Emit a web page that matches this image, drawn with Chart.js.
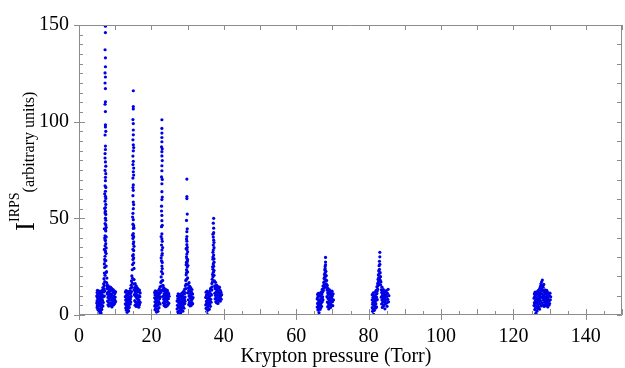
<!DOCTYPE html>
<html>
<head>
<meta charset="utf-8">
<script src="https://cdn.jsdelivr.net/npm/chart.js@4"></script>
<style>
  html, body { margin: 0; padding: 0; background: #fff; }
  #wrap { width: 625px; height: 368px; }
</style>
</head>
<body>
<div id="wrap"><canvas id="irps" width="625" height="368"></canvas></div>
<script>
// Krypton pressure (Torr) vs I^IRPS, one list per resonance
const res7 = [
  [4.9,6.2],[4.9,9.8],[5.0,3.9],[5.0,11.6],[5.0,7.4],[5.1,12.8],[5.1,5.1],[5.1,9.0],[5.2,2.8],[5.2,10.7],[5.2,6.6],[5.3,8.3],[5.3,12.1],[5.3,4.4],
  [5.4,11.2],[5.4,7.0],[5.4,3.2],[5.5,9.6],[5.5,5.7],[5.5,12.4],[5.6,1.9],[5.6,8.1],[5.6,10.3],[5.7,4.8],[5.7,6.9],[5.7,11.8],[5.8,0.6],[5.8,3.1],
  [5.8,9.2],[5.9,-0.8],[5.9,5.5],[5.9,7.7],[6.0,2.2],[6.0,10.9],[6.0,6.1],[6.1,1.0],[6.1,8.6],[6.1,12.3],[6.2,4.0],[6.2,9.9],[6.3,6.8],[6.3,2.9],
  [6.3,11.4],[6.4,8.0],[6.4,5.0],[6.5,12.9],[6.5,7.3],[6.5,10.1],[6.6,4.6],[6.6,14.2],[6.7,9.4],[6.7,6.5],[6.8,11.9],[6.8,16.1],
  [6.9,13.5],[6.9,18.8],[7.0,15.2],[7.0,21.7],[7.0,9.8],[7.1,24.6],[7.1,17.3],[7.1,12.4],[7.2,27.9],[7.2,20.5],
  [7.2,30.4],[7.3,33.1],[7.2,35.8],[7.4,28.2],[7.3,38.5],[7.2,41.0],[7.4,36.9],[7.3,44.2],[7.2,47.3],[7.4,43.5],[7.3,50.1],[7.2,52.8],[7.4,49.0],
  [7.3,55.6],[7.2,58.9],[7.4,57.2],[7.3,61.4],[7.3,64.0],[7.2,66.8],[7.4,60.3],[7.3,69.5],[7.3,71.2],[7.2,74.8],[7.4,77.0],[7.3,32.6],[7.5,25.3],
  [7.5,31.8],[7.1,28.8],[7.4,46.6],[7.3,53.7],[7.2,38.9],[7.5,40.4],
  [7.0,26.4],[7.5,34.7],[7.1,39.8],[7.5,45.3],[7.0,33.9],[7.4,52.0],[7.1,55.1],[7.5,22.0],[7.1,62.7],[7.4,66.0],[7.0,44.6],[7.4,73.1],
  [7.3,79.2],[7.2,83.5],[7.3,85.6],[7.3,87.4],[7.2,93.1],[7.3,97.3],[7.3,98.4],[7.3,105.2],[7.2,109.0],[7.3,110.3],[7.3,117.1],[7.2,120.0],
  [7.3,123.1],[7.2,125.2],[7.3,128.4],[7.3,133.0],[7.2,137.2],[7.3,146.1],[7.3,149.4],[7.2,81.2],[7.4,95.0],
  [7.6,22.4],[7.6,16.8],[7.7,19.1],[7.7,13.6],[7.8,15.7],[7.8,10.9],[7.9,14.8],[7.9,7.2],[7.9,11.6],[8.0,5.3],[8.0,13.9],[8.0,9.1],[8.1,15.0],
  [8.1,6.8],[8.2,12.2],[8.2,4.6],[8.2,10.0],[8.3,14.1],[8.3,7.9],[8.4,5.8],[8.4,11.3],[8.5,13.3],[8.5,8.6],[8.6,4.9],[8.6,10.7],[8.7,14.4],
  [8.7,6.3],[8.8,9.5],[8.8,12.7],[8.9,5.4],[8.9,11.0],[9.0,13.8],[9.0,7.6],[9.1,4.2],[9.1,10.4],[9.2,12.9],[9.2,6.0],[9.3,8.8],[9.4,13.2],
  [9.4,5.1],[9.5,11.7],[9.5,7.3],[9.6,9.8],[9.7,12.5],[9.7,5.6],[9.8,8.2],[9.9,11.1],[9.9,6.4],[10.0,9.3],[10.1,12.0],[10.1,7.0]
];
const res15 = [
  [12.8,5.8],[12.8,9.4],[12.8,11.9],[12.9,3.6],[12.9,7.7],[13.0,12.6],[13.0,5.2],[13.0,9.9],[13.1,2.5],[13.1,8.1],[13.2,11.0],[13.2,4.3],[13.2,6.9],
  [13.3,10.2],[13.3,1.4],[13.4,8.8],[13.4,5.9],[13.4,12.2],[13.5,3.2],[13.5,7.1],[13.6,-0.5],[13.6,10.6],[13.6,5.0],[13.7,8.4],[13.7,2.1],[13.8,11.5],
  [13.8,6.3],[13.9,9.2],[13.9,3.9],[14.0,12.4],[14.0,7.5],[14.1,5.6],[14.1,10.8],[14.2,8.3],[14.2,13.7],[14.3,6.7],[14.3,11.3],[14.4,9.6],[14.4,15.4],
  [14.5,12.1],[14.5,17.6],[14.6,14.3],[14.6,20.2],[14.7,16.5],[14.7,23.4],[14.8,19.0],[14.8,26.1],
  [14.9,28.7],[15.0,31.2],[14.9,34.0],[15.1,29.5],[15.0,36.8],[14.9,39.6],[15.1,33.3],[15.0,42.1],[15.0,44.8],[14.9,47.0],[15.1,40.5],[15.0,49.3],
  [14.9,52.6],[15.0,55.0],[15.1,46.2],[15.0,58.4],[14.9,61.7],[15.0,64.5],[15.0,67.3],[14.9,70.8],[15.0,74.1],[15.1,76.0],[15.0,79.5],[14.9,82.2],
  [15.0,84.9],[15.0,88.0],[14.9,90.6],[15.0,93.2],[15.0,95.7],[15.1,27.0],[15.2,24.1],[15.1,37.9],
  [14.8,30.6],[15.2,35.5],[14.8,41.3],[15.2,45.0],[14.8,50.7],[15.1,57.1],[14.9,65.9],[15.1,72.4],[15.1,86.6],[14.9,77.8],
  [15.0,99.0],[14.9,101.1],[15.0,106.6],[15.0,107.8],[15.0,116.0],
  [15.2,18.3],[15.2,13.0],[15.3,15.9],[15.3,10.5],[15.4,14.2],[15.4,7.4],[15.5,12.0],[15.5,16.3],[15.5,5.1],[15.6,9.7],[15.6,13.8],[15.7,6.6],
  [15.7,11.2],[15.8,15.1],[15.8,4.4],[15.9,8.9],[15.9,12.8],[16.0,6.0],[16.0,10.3],[16.1,14.0],[16.1,4.8],[16.2,8.0],[16.2,11.9],[16.3,5.5],
  [16.3,13.4],[16.4,9.1],[16.4,6.9],[16.5,12.3],[16.5,4.0],[16.6,10.0],[16.6,7.7],[16.7,12.9],[16.7,5.2],[16.8,9.5],[16.9,11.4],[16.9,6.5]
];
const res23 = [
  [20.9,4.6],[20.9,8.9],[20.9,11.7],[21.0,2.7],[21.0,6.8],[21.0,10.4],[21.1,12.5],[21.1,5.3],[21.2,8.1],[21.2,3.4],[21.3,10.9],[21.3,6.2],[21.4,1.5],
  [21.4,9.3],[21.4,12.0],[21.5,4.7],[21.5,7.5],[21.6,-0.6],[21.6,10.1],[21.7,3.0],[21.7,6.4],[21.7,11.6],[21.8,8.7],[21.8,1.9],[21.9,5.4],[21.9,9.9],
  [22.0,12.8],[22.0,7.0],[22.1,3.8],[22.1,10.7],[22.2,6.1],[22.2,13.5],[22.3,8.5],[22.3,11.2],[22.4,5.7],[22.4,14.6],[22.5,9.4],[22.5,12.6],
  [22.6,16.8],[22.6,11.8],[22.7,19.7],[22.7,14.9],[22.8,22.5],[22.8,17.4],
  [22.9,25.3],[22.8,28.0],[23.0,24.0],[22.9,30.9],[22.9,33.6],[22.8,36.2],[23.0,31.8],[22.9,39.4],[22.9,42.0],[22.8,45.7],[23.0,38.1],[22.9,48.8],
  [22.9,51.5],[22.8,56.3],[22.9,59.7],[23.0,61.0],[22.9,63.8],[22.9,67.9],[22.8,71.4],[22.9,74.6],[22.9,77.2],[23.0,79.9],[22.9,82.3],[22.9,84.5],
  [22.8,87.0],[22.9,89.6],[22.9,91.8],[23.0,27.2],[23.1,21.4],[22.9,94.1],[22.9,96.5],[22.9,101.0],
  [22.7,29.5],[23.1,34.9],[22.7,40.6],[23.0,46.4],[22.8,53.8],[23.0,70.1],[23.0,86.0],
  [23.1,17.9],[23.1,13.1],[23.2,15.4],[23.2,9.6],[23.3,12.6],[23.3,6.3],[23.4,14.2],[23.4,8.2],[23.5,11.0],[23.5,4.9],[23.6,13.5],[23.6,7.2],
  [23.7,10.1],[23.7,5.6],[23.8,12.4],[23.8,8.7],[23.9,4.3],[23.9,11.3],[24.0,6.7],[24.0,13.2],[24.1,9.2],[24.1,5.1],[24.2,12.0],[24.2,7.8],
  [24.3,10.5],[24.3,4.7],[24.4,12.8],[24.4,6.9],[24.5,9.0],[24.6,11.6],[24.6,5.4],[24.7,8.4],[24.8,10.9],[24.8,6.1],[24.9,9.7]
];
const res30 = [
  [27.1,3.1],[27.1,7.2],[27.2,9.8],[27.2,5.0],[27.3,1.6],[27.3,8.4],[27.4,11.0],[27.4,3.9],[27.5,6.5],[27.5,0.7],[27.6,9.1],[27.6,4.4],[27.7,7.7],
  [27.7,2.2],[27.8,10.5],[27.8,5.8],[27.9,-0.9],[27.9,8.0],[28.0,3.3],[28.0,6.1],[28.1,10.2],[28.1,1.2],[28.2,7.4],[28.2,4.9],[28.3,9.4],[28.3,2.7],
  [28.4,6.0],[28.4,11.3],[28.5,3.8],[28.5,8.6],[28.6,5.5],[28.6,10.0],[28.7,2.0],[28.7,7.3],[28.8,11.8],[28.8,4.6],[28.9,9.0],[28.9,6.8],[29.0,12.5],
  [29.0,3.5],[29.1,8.2],[29.1,10.9],[29.2,5.9],[29.2,13.4],[29.3,9.3],[29.3,7.1],[29.4,15.2],[29.4,11.5],
  [29.5,17.9],[29.5,13.6],[29.6,20.8],[29.6,16.0],[29.7,23.4],[29.7,18.5],[29.8,26.6],[29.7,21.9],[29.8,29.2],[29.9,24.8],[29.8,31.5],[29.8,33.9],
  [29.9,27.7],[29.8,36.4],[29.7,30.1],[29.8,38.2],[29.9,35.0],[29.8,40.6],[29.8,43.1],[29.7,48.9],[29.9,52.2],[29.8,60.2],[29.8,61.3],[29.8,70.3],
  [30.0,22.3],[30.0,19.2],[30.1,25.6],
  [29.6,26.0],[30.0,32.7],[29.6,34.3],[30.0,28.6],[29.7,39.3],[29.9,44.6],[29.7,27.3],
  [30.1,15.8],[30.1,11.4],[30.2,14.0],[30.2,7.9],[30.3,12.6],[30.3,5.4],[30.4,16.7],[30.4,9.8],[30.5,13.1],[30.5,6.5],[30.6,11.0],[30.6,14.8],
  [30.7,4.7],[30.7,8.9],[30.8,12.1],[30.8,6.2],[30.9,10.3],[30.9,14.0],[31.0,7.6],[31.0,5.0],[31.1,11.7],[31.1,9.2],[31.2,6.4],[31.2,13.2],
  [31.3,8.3],[31.4,10.8],[31.4,5.8],[31.5,9.0]
];
const res37 = [
  [35.0,5.2],[35.0,9.1],[35.1,11.8],[35.1,3.4],[35.2,7.0],[35.2,10.3],[35.3,1.8],[35.3,5.9],[35.4,8.6],[35.4,12.4],[35.5,0.2],[35.5,4.2],[35.6,7.9],
  [35.6,10.9],[35.7,2.6],[35.7,6.3],[35.8,9.5],[35.8,4.8],[35.9,11.4],[35.9,7.3],[36.0,3.0],[36.0,8.8],[36.1,12.2],[36.1,5.6],[36.2,9.9],[36.2,6.9],
  [36.3,13.5],[36.3,4.5],[36.4,8.1],[36.4,11.0],[36.5,14.1],[36.5,6.6],[36.6,10.4],[36.7,16.3],[36.7,12.9],
  [36.8,18.5],[36.8,14.6],[36.9,21.0],[36.9,17.2],[37.0,23.7],[37.0,19.8],[37.1,26.4],[37.0,28.9],[37.1,22.1],[37.2,31.0],[37.1,33.6],[37.2,25.2],
  [37.1,36.2],[37.2,38.7],[37.1,40.3],[37.2,42.6],[37.2,44.9],[37.1,47.5],[37.2,50.0],[37.3,20.5],[37.3,27.3],[37.4,17.6],[37.3,34.8],[37.0,30.0],
  [36.9,24.9],[37.3,29.1],[37.0,32.4],[37.3,37.5],[37.0,41.8],[37.3,23.0],
  [37.5,15.1],[37.5,11.2],[37.6,13.6],[37.6,8.4],[37.7,16.9],[37.7,10.1],[37.8,6.9],[37.8,14.3],[37.9,12.0],[37.9,8.8],[38.0,15.5],[38.0,6.3],
  [38.1,10.6],[38.1,13.1],[38.2,7.7],[38.2,11.9],[38.3,14.8],[38.3,9.3],[38.4,6.0],[38.4,12.5],[38.5,10.0],[38.6,13.9],[38.6,7.4],[38.7,11.3],
  [38.8,8.6],[38.8,14.4],[38.9,10.7],[39.0,7.1],[39.0,12.8],[39.1,9.6],[39.2,11.8],[39.3,8.2],[39.4,10.5]
];
const res68 = [
  [65.8,4.1],[65.8,8.3],[65.9,10.6],[65.9,6.0],[66.0,2.6],[66.0,9.2],[66.1,5.3],[66.1,11.2],[66.2,7.4],[66.2,3.5],[66.3,9.8],[66.3,1.2],[66.4,6.5],
  [66.4,4.7],[66.5,10.3],[66.5,-0.3],[66.6,8.0],[66.6,2.9],[66.7,5.6],[66.7,11.5],[66.8,7.1],[66.8,3.8],[66.9,9.6],[66.9,6.2],[67.0,12.0],[67.0,4.5],
  [67.1,8.7],[67.1,10.8],[67.2,6.8],[67.2,13.3],[67.3,9.4],[67.3,11.9],[67.4,15.0],[67.4,7.9],[67.5,12.7],
  [67.6,16.8],[67.6,13.9],[67.7,18.9],[67.7,15.5],[67.8,21.0],[67.8,17.3],[67.9,23.3],[67.9,19.6],[68.0,25.1],[68.0,21.8],[68.1,27.4],[68.0,23.9],
  [68.1,29.8],[68.1,26.0],[68.2,22.6],[68.2,18.2],[68.3,20.4],[68.3,16.1],[68.4,17.8],[68.4,14.2],[68.1,20.1],[67.9,14.8],
  [68.5,12.9],[68.5,9.5],[68.6,15.3],[68.6,6.7],[68.7,11.4],[68.7,4.3],[68.8,13.6],[68.8,8.5],[68.9,10.6],[68.9,5.9],[69.0,12.4],[69.0,3.1],
  [69.1,9.0],[69.1,7.2],[69.2,13.0],[69.2,5.0],[69.3,10.9],[69.3,8.1],[69.4,6.4],[69.4,12.1],[69.5,9.7],[69.5,3.9],[69.6,11.6],[69.6,7.5],
  [69.7,5.4],[69.8,10.2],[69.8,8.8],[69.9,12.3],[70.0,6.9],[70.0,9.9],[70.1,4.8],[70.2,11.0],[70.3,7.8]
];
const res83 = [
  [81.0,3.8],[81.0,7.9],[81.0,10.5],[81.1,5.6],[81.1,1.9],[81.2,9.1],[81.2,6.6],[81.3,11.4],[81.3,3.0],[81.4,8.3],[81.4,0.4],[81.5,5.1],[81.5,10.0],
  [81.6,7.0],[81.6,2.4],[81.7,9.7],[81.7,4.5],[81.8,11.9],[81.8,6.3],[81.9,8.8],[81.9,3.5],[82.0,10.6],[82.0,5.8],[82.1,7.6],[82.1,12.8],[82.2,9.3],
  [82.2,4.2],[82.3,11.1],[82.3,14.6],[82.4,8.0],[82.4,12.4],
  [82.5,16.2],[82.5,13.4],[82.6,18.4],[82.6,15.1],[82.7,20.7],[82.7,17.0],[82.8,22.9],[82.8,19.3],[82.9,25.5],[82.9,21.4],[83.0,27.8],[83.0,23.6],
  [83.1,30.1],[83.1,26.2],[83.1,32.4],[83.2,21.9],[83.2,18.0],[83.3,19.8],[83.3,15.6],[83.4,17.1],[83.0,18.6],[82.9,15.9],
  [83.5,13.0],[83.5,9.2],[83.6,11.6],[83.6,5.7],[83.7,14.4],[83.7,7.8],[83.8,10.1],[83.8,3.9],[83.9,12.5],[83.9,6.6],[84.0,8.9],[84.0,11.0],
  [84.1,4.6],[84.1,13.1],[84.2,7.3],[84.2,9.8],[84.3,5.3],[84.3,12.0],[84.4,8.4],[84.4,10.7],[84.5,3.2],[84.5,6.9],[84.6,11.8],[84.6,9.0],
  [84.7,5.9],[84.8,10.3],[84.8,7.7],[84.9,12.6],[85.0,6.2],[85.0,9.4],[85.1,4.5],[85.2,11.2],[85.3,8.1],[85.4,13.3],[85.5,6.8],[85.6,10.0]
];
const res128 = [
  [125.7,4.9],[125.7,8.7],[125.8,10.9],[125.8,6.4],[125.9,2.8],[125.9,9.5],[126.0,5.5],[126.0,11.8],[126.1,7.6],[126.1,3.6],[126.2,10.2],[126.2,0.9],
  [126.3,6.9],[126.3,-0.8],[126.4,8.4],[126.4,4.3],[126.5,11.3],[126.5,2.0],[126.6,6.1],[126.6,9.0],[126.7,3.3],[126.7,12.4],[126.8,7.2],[126.8,5.0],
  [126.9,10.6],[126.9,8.1],[127.0,4.0],[127.0,12.9],[127.1,6.7],[127.1,9.9],[127.2,11.4],[127.2,3.0],[127.3,8.6],[127.3,13.8],[127.4,5.8],[127.4,10.5],
  [127.5,14.9],[127.5,7.4],[127.6,12.2],[127.6,16.1],[127.7,9.3],[127.7,4.7],[127.8,13.5],[127.8,17.2],[127.9,11.0],[127.9,6.3],[128.0,15.3],[128.0,18.1],
  [128.1,8.9],[128.1,12.7],[128.2,14.4],[128.2,5.2],[128.3,10.0],[128.3,7.7],[128.4,12.0],[128.4,15.8],[128.5,4.4],[128.5,9.6],[128.6,11.6],[128.6,6.6],
  [128.7,13.0],[128.7,8.2],[128.8,5.4],[128.8,10.8],[128.9,12.3],[128.9,7.0],[129.0,9.2],[129.0,4.9],[129.1,11.5],[129.1,6.0],[129.2,8.5],[129.2,12.8],
  [129.3,5.7],[129.3,10.3],[129.4,7.5],[129.4,11.9],[129.5,4.2],[129.5,9.0],[129.6,6.8],[129.6,11.1],[129.7,8.0],[129.8,5.1],[129.8,10.4],[129.9,7.3],
  [130.0,9.8],[130.0,5.9],[130.1,11.3],[130.2,7.9],[130.3,9.4]
];

const xTickValues = [0, 20, 40, 60, 80, 100, 120, 140];
const yTickValues = [0, 50, 100, 150];
const xTitle = 'Krypton pressure (Torr)';
const yTitleMain = 'I';
const yTitleSup = 'IRPS';
const yTitleRest = '(arbitrary units)';

const SERIF = '"Liberation Serif", "Times New Roman", serif';
const DOT = 'rgb(0, 0, 230)';
const FRAME = '#8c8c8c';

const allPoints = [res7, res15, res23, res30, res37, res68, res83, res128]
  .flat()
  .map(([x, y]) => ({ x, y }));

// frame, tick marks and the two axis titles
const framePlugin = {
  id: 'frame',
  afterDraw(chart) {
    const { ctx, chartArea: a, scales } = chart;
    const sx = scales.x, sy = scales.y;
    ctx.save();
    ctx.strokeStyle = FRAME;
    ctx.lineWidth = 1;
    ctx.beginPath();
    ctx.rect(a.left + 0.5, a.top + 0.5, a.right - a.left - 1, a.bottom - a.top - 1);
    ctx.stroke();

    ctx.beginPath();
    for (let v = 0; v <= 150; v += 5) {
      const px = Math.round(sx.getPixelForValue(v)) + 0.5;
      const major = v % 10 === 0;
      ctx.moveTo(px, a.bottom);
      ctx.lineTo(px, a.bottom - (major ? 6 : 4));
      if (xTickValues.includes(v)) {
        ctx.moveTo(px, a.bottom);
        ctx.lineTo(px, a.bottom + 5);
      }
      if (major) {
        ctx.moveTo(px, a.top);
        ctx.lineTo(px, a.top + 5);
      }
    }
    for (let v = 0; v <= 150; v += 5) {
      const py = Math.round(sy.getPixelForValue(v)) + 0.5;
      ctx.moveTo(a.left, py);
      ctx.lineTo(a.left + (v % 50 === 0 ? 6 : 4), py);
      if (yTickValues.includes(v)) {
        ctx.moveTo(a.left, py);
        ctx.lineTo(a.left - 5, py);
      }
      if (v % 10 === 0) {
        ctx.moveTo(a.right, py);
        ctx.lineTo(a.right - 5, py);
      }
    }
    ctx.stroke();

    ctx.fillStyle = '#000';
    ctx.textBaseline = 'alphabetic';
    ctx.textAlign = 'center';
    ctx.font = '20px ' + SERIF;
    ctx.fillText(xTitle, 336, 362);

    ctx.translate(34, 231);
    ctx.rotate(-Math.PI / 2);
    ctx.textAlign = 'left';
    ctx.font = '27px ' + SERIF;
    ctx.fillText(yTitleMain, 0, 0);
    let off = ctx.measureText(yTitleMain).width;
    ctx.font = '14px ' + SERIF;
    ctx.fillText(yTitleSup, off, -15);
    off += ctx.measureText(yTitleSup).width;
    ctx.font = '16px ' + SERIF;
    ctx.fillText(yTitleRest, off, 0);
    ctx.restore();
  }
};

new Chart(document.getElementById('irps'), {
  type: 'scatter',
  data: {
    datasets: [{
      data: allPoints,
      pointRadius: 1.6,
      pointBorderWidth: 0,
      pointBackgroundColor: DOT,
      pointHoverRadius: 1.6
    }]
  },
  options: {
    responsive: false,
    animation: false,
    devicePixelRatio: 1,
    layout: { padding: { top: 25, right: 3, left: 0, bottom: 0 } },
    plugins: { legend: { display: false }, tooltip: { enabled: false } },
    scales: {
      x: {
        type: 'linear',
        min: 0,
        max: 150,
        grid: { display: false, drawTicks: false },
        border: { display: false },
        afterBuildTicks: (s) => { s.ticks = xTickValues.map(v => ({ value: v })); },
        afterFit: (s) => { s.height = 53; },
        ticks: { color: '#000', padding: 10, maxRotation: 0, font: { family: SERIF, size: 20 } }
      },
      y: {
        type: 'linear',
        min: 0,
        max: 150,
        grid: { display: false, drawTicks: false },
        border: { display: false },
        afterBuildTicks: (s) => { s.ticks = yTickValues.map(v => ({ value: v })); },
        afterFit: (s) => { s.width = 79; },
        ticks: { color: '#000', padding: 10, font: { family: SERIF, size: 20 } }
      }
    }
  },
  plugins: [framePlugin]
});
</script>
</body>
</html>
